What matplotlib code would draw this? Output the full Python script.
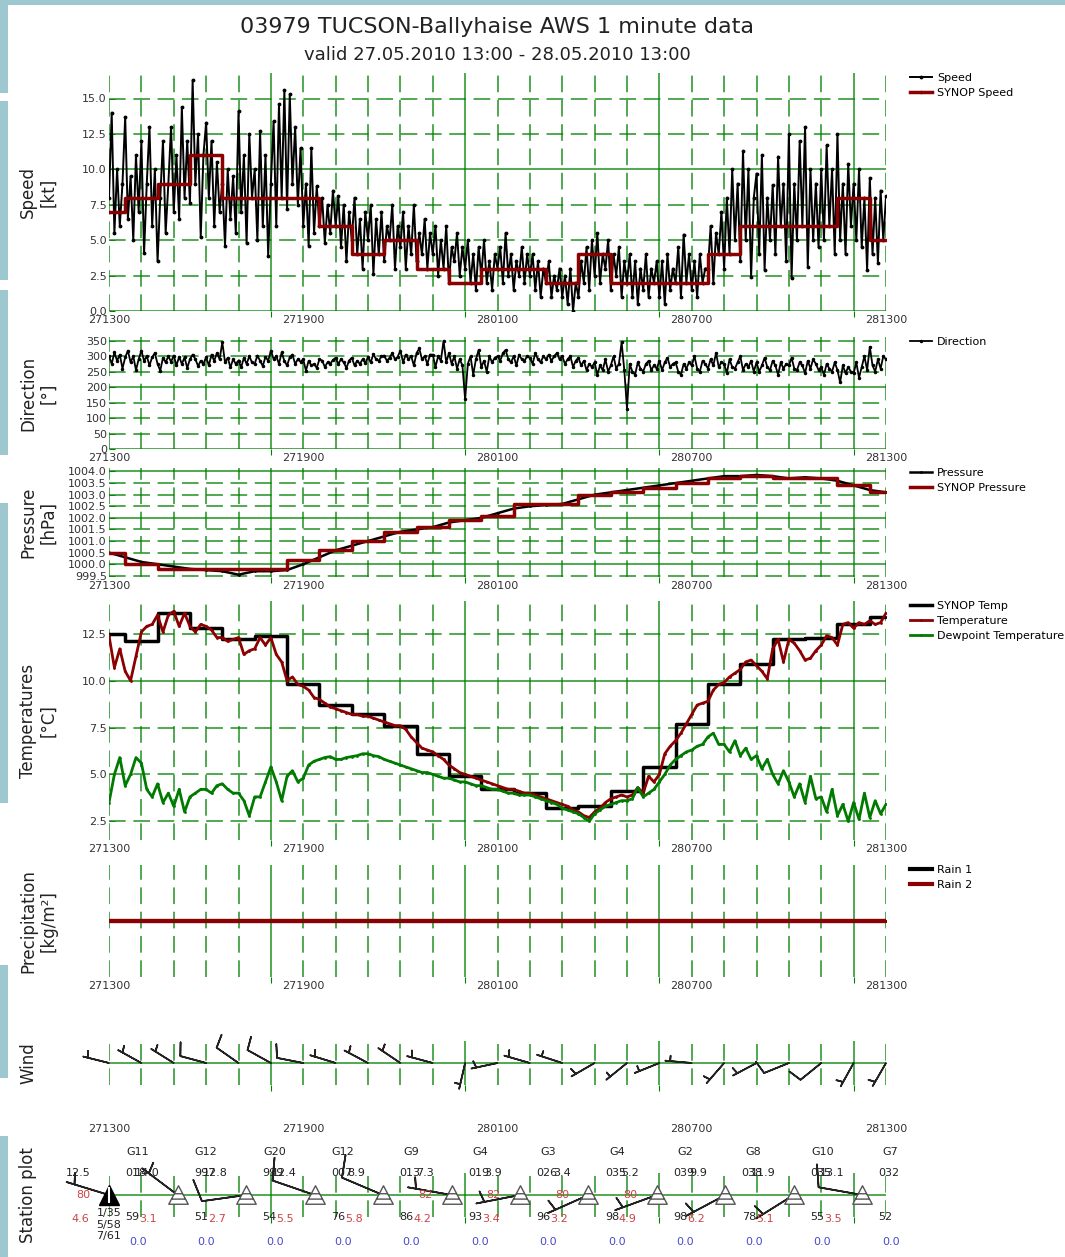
import numpy as np
import matplotlib
matplotlib.use("Agg")
import matplotlib.pyplot as plt
from matplotlib.ticker import MultipleLocator, FixedLocator, NullLocator, FormatStrFormatter
from matplotlib.path import Path
from matplotlib.patches import Rectangle

plt.rcParams['lines.scale_dashes'] = False
plt.rcParams['font.family'] = 'DejaVu Sans'

W, H = 1065, 1257
GRID = '#008000'
DARKRED = '#8b0000'

# time axis: hours after 27.05.2010 13:00
t_5min = np.arange(289) / 12.0
t_10min = np.arange(145) / 6.0
t_30min = np.arange(49) / 2.0
t_hour = np.arange(25)

time_ticks = [0, 6, 12, 18, 24]
time_labels = ['271300', '271900', '280100', '280700', '281300']
solid_hours = [5, 11, 17, 23]

# wind speed, 5 minute values [kt], one row per hour
speed_rows = [
    [8, 14.0, 5.5, 10, 6, 9, 13.7, 6.5, 9.5, 5, 11, 7],
    [12, 4.1, 9, 13.0, 6, 10, 3.5, 8, 12, 5.5, 9, 13.0],
    [7, 11, 6.5, 14.4, 8, 12, 7.6, 16.3, 9, 12.5, 5.2, 11],
    [13.3, 8, 12, 6, 10.5, 7, 9, 4.6, 10, 6.5, 9.5, 5.5],
    [14.1, 7, 11, 4.8, 12.5, 8, 10, 5, 12.7, 6, 11, 3.9],
    [9, 13.4, 6, 14.6, 8, 15.6, 7.2, 15.3, 9, 13, 7.5, 11.5],
    [6, 9, 4.6, 11.5, 5.5, 8.8, 6, 8, 4.8, 7.5, 5.5, 8.5],
    [6, 8.1, 4.5, 7.5, 3.5, 7, 5, 8, 4, 6.5, 3, 7],
    [5, 7.5, 2.6, 6.5, 4, 7, 3.5, 6, 5, 7.5, 3, 6],
    [4.5, 7, 3, 6, 4, 7.5, 3.5, 5.5, 4, 6.5, 3, 5.5],
    [4, 6, 2.5, 5, 3, 6, 2, 4.5, 3.5, 5.5, 2.5, 4.5],
    [3, 5, 2, 4, 1.5, 4.5, 2.5, 5, 2, 3.5, 1.5, 4],
    [3, 4.5, 2, 5.5, 2.5, 4, 1.5, 3.5, 2.5, 4.5, 2, 4],
    [2.5, 4, 1.5, 3.5, 1, 3, 2, 3.5, 1, 2.5, 1.5, 3],
    [1, 2.5, 0.5, 3, 0, 2, 1, 3.5, 2, 4.5, 1.5, 5],
    [2.5, 5.5, 2, 4, 3, 5, 1.5, 4, 2.5, 4.5, 1, 3.5],
    [2, 4, 1, 3.5, 0.5, 3, 1.5, 4, 1, 3, 2, 3.5],
    [1, 3.5, 0.5, 4, 1.5, 3, 2, 4.5, 1, 5.4, 2, 4],
    [1.5, 3.5, 1, 4, 2, 3, 3, 6, 2, 5.5, 4, 7],
    [3, 8, 4, 10, 5, 9, 3.5, 11.3, 5, 10, 2.4, 8],
    [9.7, 4, 11, 2.9, 8, 5, 8.9, 4, 10.9, 6, 9, 3.5],
    [12.5, 2.3, 9, 5, 12.0, 6, 13.0, 3.1, 10, 5, 9, 4.5],
    [10, 5, 11.7, 6, 10, 4, 12.5, 5, 9, 4.0, 10.4, 6],
    [9, 5, 10, 4.5, 8, 2.9, 9.4, 4, 8, 3.4, 8.5, 5],
    [8.1],
]
synop_speed = [7, 8, 9, 11, 8, 8, 8, 6, 4, 5, 3, 2, 3, 3, 2, 4, 2, 2, 2, 4, 6, 6, 6, 8, 5]

# wind direction, 5 minute values [deg]
direction_rows = [
    [300, 275, 312, 285, 305, 260, 296, 318, 280, 300, 255, 290],
    [318, 285, 300, 270, 297, 310, 275, 253, 295, 280, 300, 282],
    [302, 270, 298, 275, 296, 262, 290, 305, 291, 268, 285, 275],
    [297, 270, 305, 285, 310, 290, 345, 280, 295, 264, 290, 275],
    [286, 264, 295, 275, 300, 280, 275, 302, 285, 268, 298, 285],
    [318, 291, 300, 275, 312, 285, 270, 297, 305, 275, 290, 282],
    [290, 253, 285, 270, 275, 262, 290, 286, 265, 280, 275, 288],
    [295, 275, 290, 280, 262, 286, 295, 270, 285, 275, 290, 278],
    [297, 280, 307, 290, 285, 300, 302, 285, 295, 310, 290, 298],
    [318, 280, 305, 290, 300, 270, 310, 325, 290, 300, 275, 305],
    [305, 265, 300, 285, 350, 280, 310, 275, 300, 260, 290, 270],
    [160, 275, 300, 240, 290, 320, 265, 285, 250, 300, 280, 295],
    [300, 285, 310, 320, 290, 280, 300, 270, 305, 290, 285, 300],
    [295, 275, 310, 290, 280, 300, 290, 305, 285, 300, 310, 290],
    [300, 275, 290, 300, 265, 285, 295, 270, 285, 255, 275, 265],
    [280, 240, 270, 255, 290, 250, 270, 300, 260, 275, 345, 255],
    [130, 275, 250, 240, 280, 260, 250, 275, 285, 255, 270, 260],
    [285, 255, 280, 295, 265, 275, 280, 250, 240, 275, 260, 280],
    [270, 300, 260, 250, 285, 275, 260, 290, 270, 310, 265, 280],
    [275, 245, 290, 265, 260, 280, 300, 255, 275, 265, 285, 250],
    [280, 250, 270, 295, 265, 255, 285, 270, 240, 280, 260, 275],
    [270, 295, 260, 255, 280, 270, 245, 285, 260, 290, 275, 255],
    [265, 240, 275, 260, 250, 280, 255, 215, 270, 245, 265, 250],
    [245, 280, 230, 265, 300, 255, 330, 270, 250, 290, 260, 300],
    [290],
]

# pressure [hPa]
pressure = [1000.5, 1000.3, 1000.1, 1000.0, 999.9, 999.8, 999.75, 999.7, 999.55, 999.7,
            999.7, 999.75, 1000.0, 1000.3, 1000.6, 1000.8, 1001.0, 1001.2, 1001.4, 1001.5,
            1001.6, 1001.8, 1001.9, 1002.0, 1002.2, 1002.4, 1002.5, 1002.55, 1002.6, 1002.8,
            1003.0, 1003.1, 1003.2, 1003.3, 1003.4, 1003.5, 1003.6, 1003.7, 1003.8, 1003.8,
            1003.85, 1003.8, 1003.7, 1003.75, 1003.7, 1003.6, 1003.4, 1003.2, 1003.1]
synop_pressure = [1000.5, 1000.0, 999.8, 999.8, 999.8, 999.8, 1000.2, 1000.6, 1001.0, 1001.4,
                  1001.6, 1001.9, 1002.1, 1002.6, 1002.6, 1003.0, 1003.1, 1003.3, 1003.5,
                  1003.7, 1003.8, 1003.7, 1003.7, 1003.4, 1003.1]

# temperatures [degC], 10 minute values
temp_rows = [
    [12.4, 10.7, 11.7, 10.5, 10.0, 11.3],
    [12.6, 12.9, 13.0, 13.5, 12.6, 13.5],
    [13.7, 12.9, 13.6, 12.9, 12.6, 13.0],
    [12.9, 12.7, 12.3, 12.3, 12.1, 12.2],
    [12.3, 11.4, 11.6, 11.7, 12.3, 11.9],
    [12.3, 11.4, 11.0, 10.0, 10.2, 9.8],
    [9.7, 9.5, 9.1, 9.0, 8.8, 8.6],
    [8.5, 8.4, 8.3, 8.2, 8.2, 8.1],
    [8.1, 8.0, 7.9, 7.8, 7.7, 7.6],
    [7.6, 7.4, 7.0, 6.7, 6.4, 6.3],
    [6.2, 6.0, 5.8, 5.5, 5.3, 5.1],
    [5.0, 4.9, 4.8, 4.7, 4.6, 4.5],
    [4.4, 4.3, 4.2, 4.2, 4.1, 4.0],
    [4.0, 3.9, 3.8, 3.7, 3.6, 3.5],
    [3.4, 3.3, 3.1, 3.0, 2.8, 2.7],
    [3.0, 3.2, 3.5, 3.7, 3.8, 3.9],
    [3.8, 3.9, 4.3, 4.0, 4.9, 4.6],
    [5.0, 6.1, 6.5, 6.8, 7.2, 7.7],
    [8.2, 8.7, 8.8, 8.9, 9.5, 9.8],
    [9.9, 10.2, 10.4, 10.6, 11.0, 11.1],
    [10.8, 10.5, 10.1, 11.7, 12.2, 11.0],
    [12.2, 12.0, 11.6, 11.1, 11.2, 11.6],
    [11.9, 12.4, 12.3, 11.9, 13.0, 13.1],
    [12.8, 13.1, 13.0, 13.2, 13.0, 13.1],
    [13.6],
]
dewpoint_rows = [
    [3.5, 5.0, 5.9, 4.4, 5.0, 5.9],
    [5.6, 4.2, 3.8, 4.5, 3.5, 4.0],
    [3.3, 4.2, 3.0, 3.8, 4.0, 4.2],
    [4.2, 4.0, 4.4, 4.5, 4.2, 4.0],
    [4.0, 3.6, 2.8, 3.8, 3.8, 4.6],
    [5.4, 4.6, 3.6, 4.9, 5.2, 4.6],
    [4.8, 5.5, 5.7, 5.8, 5.9, 5.95],
    [5.8, 5.8, 5.9, 5.95, 6.0, 6.1],
    [6.1, 6.0, 5.95, 5.8, 5.7, 5.6],
    [5.5, 5.4, 5.3, 5.2, 5.1, 5.1],
    [5.0, 4.9, 4.8, 4.8, 4.7, 4.6],
    [4.6, 4.5, 4.4, 4.4, 4.3, 4.2],
    [4.2, 4.1, 4.0, 4.0, 3.9, 3.9],
    [3.9, 3.8, 3.7, 3.6, 3.5, 3.4],
    [3.2, 3.1, 3.0, 2.9, 2.7, 2.5],
    [2.9, 3.1, 3.3, 3.4, 3.5, 3.6],
    [3.6, 3.7, 4.3, 3.8, 4.0, 4.2],
    [4.6, 5.0, 5.5, 5.8, 6.0, 6.2],
    [6.3, 6.5, 6.6, 7.0, 7.2, 6.6],
    [6.6, 6.2, 6.8, 6.0, 6.4, 5.8],
    [6.0, 5.3, 5.8, 5.0, 4.5, 5.2],
    [4.6, 3.8, 4.5, 3.5, 4.9, 3.7],
    [3.8, 3.0, 4.2, 2.8, 3.4, 2.5],
    [3.5, 2.6, 4.0, 2.7, 3.6, 2.9],
    [3.4],
]
synop_temp = [12.5, 12.1, 13.6, 12.8, 12.2, 12.4, 9.8, 8.7, 8.2, 7.6, 6.1, 4.9, 4.2,
              4.0, 3.2, 3.3, 4.1, 5.4, 7.7, 9.8, 10.9, 12.2, 12.3, 13.0, 13.4]

# precipitation [kg/m2], hourly
rain1 = [0.0, 0.0, 0.0, 0.0, 0.0, 0.0, 0.0, 0.0, 0.0, 0.0, 0.0, 0.0, 0.0,
         0.0, 0.0, 0.0, 0.0, 0.0, 0.0, 0.0, 0.0, 0.0, 0.0, 0.0, 0.0]
rain2 = [0.0, 0.0, 0.0, 0.0, 0.0, 0.0, 0.0, 0.0, 0.0, 0.0, 0.0, 0.0, 0.0,
         0.0, 0.0, 0.0, 0.0, 0.0, 0.0, 0.0, 0.0, 0.0, 0.0, 0.0, 0.0]

# hourly wind barbs
wind_dir = [284, 299, 302, 285, 305, 299, 281, 287, 298, 304, 285, 193, 258,
            286, 288, 240, 231, 248, 275, 221, 242, 248, 231, 209, 210]
wind_spd = [6, 6, 6, 10, 10, 10, 10, 6, 6, 6, 6, 2, 6, 6, 2, 6, 2, 2, 2, 6, 6, 10, 10, 6, 6]

# station plots
stn_x = [0.0, 2.12, 4.23, 6.35, 8.46, 10.58, 12.69, 14.81, 16.92, 19.04, 21.15, 23.27, 25.38]
stn_label = ['', 'G11', 'G12', 'G20', 'G12', 'G9', 'G4', 'G3', 'G4', 'G2', 'G8', 'G10', 'G7']
stn_pres = ['', '018', '997', '999', '007', '013', '019', '026', '035', '039', '038', '035', '032']
stn_temp = ['12.5', '14.0', '12.8', '12.4', '8.9', '7.3', '3.9', '3.4', '5.2', '9.9', '11.9', '13.1', '']
stn_vis = ['80', '', '', '', '', '82', '82', '80', '80', '', '', '', '']
stn_rh = ['', '59', '51', '54', '76', '86', '93', '96', '98', '98', '78', '55', '52']
stn_td = ['4.6', '3.1', '2.7', '5.5', '5.8', '4.2', '3.4', '3.2', '4.9', '6.2', '5.1', '3.5', '']
stn_rr = ['', '0.0', '0.0', '0.0', '0.0', '0.0', '0.0', '0.0', '0.0', '0.0', '0.0', '0.0', '0.0']
stn_clouds = '1/35\n5/58\n7/61'
stn_dir = [287, 307, 262, 289, 293, 280, 259, 246, 250, 242, 238, 280]
stn_spd = [6, 6, 10, 10, 10, 6, 6, 6, 6, 6, 6, 10]

speed = np.concatenate(speed_rows)
direction = np.concatenate(direction_rows)
temperature = np.concatenate(temp_rows)
dewpoint = np.concatenate(dewpoint_rows)


def uv(spd, d):
    r = np.deg2rad(np.asarray(d, float))
    s = np.asarray(spd, float)
    return -s * np.sin(r), -s * np.cos(r)


fig = plt.figure(figsize=(W / 100, H / 100), dpi=100)

# light blue frame decoration of the original page
strip = '#9ec8cf'
fig.add_artist(Rectangle((0, 1 - 5 / H), 1, 5 / H, transform=fig.transFigure, color=strip, lw=0))
for top, bot in [(0, 93), (101, 280), (290, 455), (503, 803), (965, 1078), (1136, 1257)]:
    fig.add_artist(Rectangle((0, 1 - bot / H), 8 / W, (bot - top) / H,
                             transform=fig.transFigure, color=strip, lw=0))

fig.text(497 / W, 1 - 27 / H, '03979 TUCSON-Ballyhaise AWS 1 minute data',
         ha='center', va='center', fontsize=16, color='#222')
fig.text(497 / W, 1 - 55 / H, 'valid 27.05.2010 13:00 - 28.05.2010 13:00',
         ha='center', va='center', fontsize=13, color='#222')


def panel(top, bottom, ylabel, label_loc='bottom'):
    ax = fig.add_axes([109 / W, 1 - bottom / H, 777 / W, (bottom - top) / H])
    ax.set_frame_on(False)
    ax.set_xlim(0, 24)
    ax.xaxis.set_major_locator(FixedLocator(solid_hours))
    ax.xaxis.set_minor_locator(MultipleLocator(1))
    ax.tick_params(axis='x', which='major', direction='out', length=4, color=GRID,
                   labelbottom=False)
    ax.tick_params(axis='x', which='minor', length=0)
    ax.tick_params(axis='y', which='both', direction='in', length=4, color=GRID,
                   labelsize=8, labelcolor='#333', pad=1.5)
    ax.grid(True, which='major', color=GRID, lw=1.2, ls='-', alpha=0.8)
    ax.grid(True, which='minor', color=GRID, lw=1.2, ls=(0, (12, 5.5)), alpha=0.8)
    ax.set_ylabel(ylabel, fontsize=12, va='top', color='#222')
    ax.yaxis.set_label_coords((19 - 109) / 777, 0.5)
    if label_loc is not None:
        sec = ax.secondary_xaxis(label_loc)
        sec.set_xticks(time_ticks, labels=time_labels)
        sec.tick_params(length=0, labelsize=8, labelcolor='#333', pad=3)
        for s in sec.spines.values():
            s.set_visible(False)
    return ax


def yticks(ax, major, minor, fmt):
    ax.yaxis.set_major_locator(MultipleLocator(major))
    ax.yaxis.set_minor_locator(MultipleLocator(minor))
    ax.yaxis.set_major_formatter(FormatStrFormatter(fmt))
    ax.yaxis.set_minor_formatter(FormatStrFormatter(fmt))


def legend(ax):
    ax.legend(loc='upper left', bbox_to_anchor=((910 - 109) / 777, 1.0), frameon=False,
              fontsize=8, handlelength=2.0, handletextpad=0.45, labelspacing=0.45,
              borderpad=0, borderaxespad=0)


# speed
ax = panel(73, 311, 'Speed\n[kt]')
ax.plot(t_5min, speed, '-', marker='.', ms=3.5, color='black', lw=1.4, label='Speed')
ax.plot(t_hour, synop_speed, drawstyle='steps-mid', color=DARKRED, lw=2.5,
        marker='.', ms=3, label='SYNOP Speed')
ax.set_ylim(0, 16.8)
yticks(ax, 10, 2.5, '%.1f')
legend(ax)

# direction
ax = panel(337, 449, 'Direction\n[°]')
ax.plot(t_5min, direction, '-', marker='.', ms=3, color='black', lw=1.3, label='Direction')
ax.set_ylim(0, 362)
yticks(ax, 200, 50, '%d')
legend(ax)

# pressure
ax = panel(468, 577, 'Pressure\n[hPa]')
ax.plot(t_30min, pressure, '-', marker='.', ms=2, color='black', lw=1.8, label='Pressure')
ax.plot(t_hour, synop_pressure, drawstyle='steps-mid', color=DARKRED, lw=2.5,
        marker='.', ms=2, label='SYNOP Pressure')
ax.set_ylim(999.45, 1004.15)
yticks(ax, 2, 0.5, '%.1f')
legend(ax)

# temperatures
ax = panel(601, 840, 'Temperatures\n[°C]')
ax.plot(t_hour, synop_temp, drawstyle='steps-mid', color='black', lw=2.5,
        marker='.', ms=2, label='SYNOP Temp')
ax.plot(t_10min, temperature, '-', color=DARKRED, lw=2.0, marker='.', ms=2, label='Temperature')
ax.plot(t_10min, dewpoint, '-', color='#007a00', lw=2.0, marker='.', ms=2,
        label='Dewpoint Temperature')
ax.set_ylim(1.5, 14.25)
yticks(ax, 10, 2.5, '%.1f')
legend(ax)

# precipitation
ax = panel(865, 977, 'Precipitation\n[kg/m²]')
ax.plot(t_hour, rain1, '-', color='black', lw=3, marker='.', ms=2, label='Rain 1')
ax.plot(t_hour, rain2, '-', color=DARKRED, lw=3, marker='.', ms=2, label='Rain 2')
ax.yaxis.set_major_locator(NullLocator())
legend(ax)

# wind barbs
ax = panel(1041, 1085, 'Wind', label_loc=-0.8)
ax.set_ylim(-1, 1)
ax.yaxis.set_major_locator(FixedLocator([0]))
ax.tick_params(axis='y', length=0, labelleft=False)
wspd = np.asarray(wind_spd, float)
calm = wspd < 2.5
u, v = uv(np.where(calm, 5, wspd), wind_dir)
y0 = np.zeros(len(t_hour))
ax.barbs(t_hour[~calm], y0[~calm], u[~calm], v[~calm], length=6.2, lw=1.2,
         sizes=dict(height=0.5), color='#222', clip_on=False, zorder=3)
ax.barbs(t_hour[calm], y0[calm], u[calm], v[calm], length=6.2, lw=1.2,
         sizes=dict(width=0), color='#222', clip_on=False, zorder=3)

# station plot
ax = panel(1173, 1217, 'Station plot', label_loc=None)
ax.set_ylim(-1, 1)
ax.yaxis.set_major_locator(FixedLocator([0]))
ax.tick_params(axis='y', length=0, labelleft=False)

n = len(stn_dir)
sx = np.asarray(stn_x[:n])
u, v = uv(stn_spd, stn_dir)
ax.barbs(sx, np.zeros(n), u, v, length=8.0, lw=1.2, sizes=dict(height=0.5),
         color='#222', clip_on=False, zorder=3)

tri = Path([(-1, -0.9), (1, -0.9), (0, 1), (-1, -0.9),
            (-0.72, -0.37), (0.72, -0.37), (-0.43, 0.18), (0.43, 0.18)],
           [Path.MOVETO, Path.LINETO, Path.LINETO, Path.CLOSEPOLY,
            Path.MOVETO, Path.LINETO, Path.MOVETO, Path.LINETO])
ax.plot(sx[1:], np.zeros(n - 1), ls='none', marker=tri, ms=14, mfc='white', mec='#555',
        mew=1.0, clip_on=False, zorder=4)
ax.plot(sx[:1], [0], ls='none', marker='^', ms=14, mfc='black', mec='black',
        clip_on=False, zorder=4)
ax.plot(sx[:1], [0], ls='none', marker='|', ms=12, mec='white', mew=1.5,
        clip_on=False, zorder=5)


def stn_text(x, s, dx, dy, color, ha, va='center'):
    if s:
        ax.annotate(s, (x, 0), xytext=(dx, dy), textcoords='offset pixels', ha=ha, va=va,
                    fontsize=8, color=color, annotation_clip=False, zorder=6)


RED = '#cc4444'
BLUE = '#4a4acc'
for i, x in enumerate(stn_x):
    stn_text(x, stn_label[i], -40, 43, '#222', 'center')
    stn_text(x, stn_pres[i], -52, 22, '#222', 'left')
    stn_text(x, stn_temp[i], -18, 22, '#222', 'right')
    stn_text(x, stn_vis[i], -26, 0, RED, 'center')
    stn_text(x, stn_rh[i], -52, -22, '#222', 'left')
    stn_text(x, stn_td[i], -38, -24, RED, 'left')
    stn_text(x, stn_rr[i], -40, -47, BLUE, 'center')
stn_text(stn_x[0], stn_clouds, 0, -13, '#222', 'center', va='top')

fig.savefig('out.png', dpi=100)
